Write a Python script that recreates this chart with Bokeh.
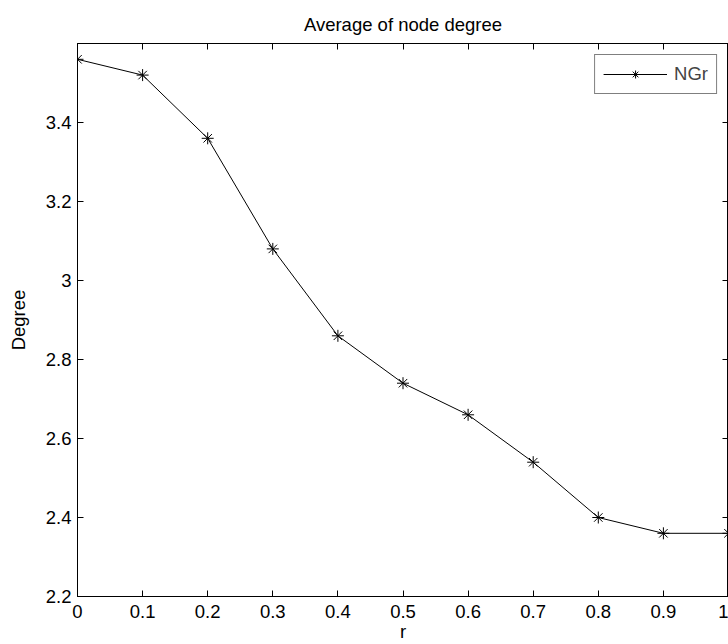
from bokeh.plotting import figure
from bokeh.models import LinearAxis, FixedTicker, Range1d, Legend, LegendItem
from bokeh.embed import file_html
from bokeh.resources import INLINE

# Average node degree as a function of r
r_values = [0.0, 0.1, 0.2, 0.3, 0.4, 0.5, 0.6, 0.7, 0.8, 0.9, 1.0]
degree_ngr = [3.56, 3.52, 3.36, 3.08, 2.86, 2.74, 2.66, 2.54, 2.40, 2.36, 2.36]

x_ticks = [0.0, 0.1, 0.2, 0.3, 0.4, 0.5, 0.6, 0.7, 0.8, 0.9, 1.0]
x_tick_labels = ["0", "0.1", "0.2", "0.3", "0.4", "0.5", "0.6", "0.7", "0.8", "0.9", "1"]
y_ticks = [2.2, 2.4, 2.6, 2.8, 3.0, 3.2, 3.4]
y_tick_labels = ["2.2", "2.4", "2.6", "2.8", "3", "3.2", "3.4"]

FONT = "Liberation Sans"
FS = "18.5px"

p = figure(
    width=728, height=644,
    x_range=Range1d(0, 1), y_range=Range1d(2.2, 3.6),
    output_backend="svg", toolbar_location=None,
    title="Average of node degree",
    min_border_left=77, min_border_right=0,
    min_border_top=43, min_border_bottom=48,
)
p.background_fill_color = "white"
p.border_fill_color = "white"
p.outline_line_color = "black"
p.outline_line_width = 1
p.xgrid.visible = False
p.ygrid.visible = False

p.title.text_font = FONT
p.title.text_font_size = FS
p.title.text_font_style = "normal"
p.title.text_color = "black"
p.title.align = "center"
p.title.standoff = 17


def style_axis(ax, ticks, labels):
    ax.ticker = FixedTicker(ticks=ticks)
    ax.major_label_overrides = {t: s for t, s in zip(ticks, labels)}
    ax.major_tick_in = 6
    ax.major_tick_out = 0
    ax.minor_tick_line_color = None
    ax.axis_line_color = "black"
    ax.major_tick_line_color = "black"
    ax.major_label_text_font = FONT
    ax.major_label_text_font_size = FS
    ax.major_label_text_color = "black"
    ax.axis_label_text_font = FONT
    ax.axis_label_text_font_size = FS
    ax.axis_label_text_font_style = "normal"
    ax.axis_label_text_color = "black"


style_axis(p.xaxis[0], x_ticks, x_tick_labels)
style_axis(p.yaxis[0], y_ticks, y_tick_labels)
p.xaxis[0].axis_label = "r"
p.xaxis[0].major_label_standoff = 8
p.xaxis[0].axis_label_standoff = 0
p.yaxis[0].axis_label = "Degree"
p.yaxis[0].major_label_standoff = 6
p.yaxis[0].axis_label_standoff = 14

# Box axes on top and right carry inward ticks only
top_axis = LinearAxis()
right_axis = LinearAxis()
style_axis(top_axis, x_ticks, [""] * len(x_ticks))
style_axis(right_axis, y_ticks, [""] * len(y_ticks))
top_axis.major_label_standoff = 0
right_axis.major_label_standoff = 0
p.add_layout(top_axis, "above")
p.add_layout(right_axis, "right")

line = p.line(r_values, degree_ngr, line_color="black", line_width=1)
pts = p.scatter(r_values, degree_ngr, marker="asterisk", size=12,
                line_color="black", line_width=1)

legend = Legend(
    items=[LegendItem(label="NGr", renderers=[line, pts])],
    location="top_right",
    border_line_color="black", border_line_width=1,
    background_fill_color="white", background_fill_alpha=1,
    label_text_font=FONT, label_text_font_size=FS,
    glyph_width=64, glyph_height=20,
    label_standoff=7, padding=8, margin=11, spacing=0,
)
p.add_layout(legend, "center")

open("out.html", "w").write(file_html(p, INLINE))
